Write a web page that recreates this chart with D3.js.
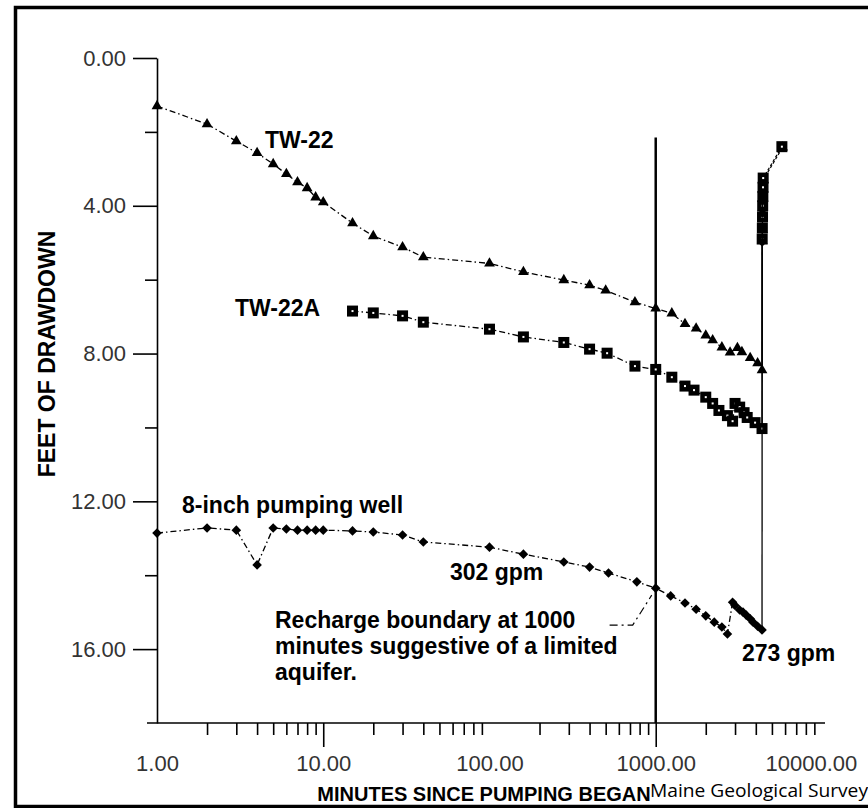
<!DOCTYPE html>
<html>
<head>
<meta charset="utf-8">
<script src="https://cdnjs.cloudflare.com/ajax/libs/d3/7.8.5/d3.min.js"></script>
<style>
body { margin: 0; background: #fff; }
svg { display: block; }
.axis text { font-family: "Liberation Sans", Arial, sans-serif; font-size: 22px; fill: #333; }
.axis path, .axis line { stroke: #000; stroke-width: 1.6; }
.note { font-family: "Liberation Sans", Arial, sans-serif; font-weight: bold; font-size: 23px; fill: #000; }
.title { font-family: "Liberation Sans", Arial, sans-serif; font-weight: bold; fill: #000; }
</style>
</head>
<body>
<div id="chart"></div>
<script>
// TW-22 observation well (triangles)
var tw22Minutes = [1, 2, 3, 4, 5, 6, 7, 8, 9, 10, 15, 20, 30, 40, 100, 160, 280, 400, 500, 750,
  1000, 1250, 1500, 1750, 2000, 2200, 2500, 2800, 3100, 3300, 3700, 4100, 4360];
var tw22Drawdown = [1.30, 1.79, 2.25, 2.57, 2.87, 3.14, 3.36, 3.52, 3.77, 3.90, 4.47, 4.82, 5.12, 5.39, 5.56, 5.79, 6.01, 6.15, 6.29, 6.61,
  6.78, 6.91, 7.20, 7.32, 7.51, 7.64, 7.83, 7.97, 7.85, 7.96, 8.12, 8.26, 8.45];
var tw22RecMinutes = [4370, 4380, 4390, 4400, 4410, 4420, 4430, 5800];
var tw22RecDrawdown = [4.95, 4.65, 4.35, 4.05, 3.80, 3.55, 3.30, 2.42];

// TW-22A observation well (squares)
var tw22aMinutes = [15, 20, 30, 40, 100, 160, 280, 400, 510, 750, 1000, 1250, 1500, 1700, 2000, 2200, 2400, 2700,
  2900, 3000, 3200, 3400, 3550, 3960, 4360];
var tw22aDrawdown = [6.85, 6.90, 6.98, 7.15, 7.34, 7.55, 7.70, 7.88, 7.99, 8.34, 8.43, 8.64, 8.88, 8.99, 9.18, 9.35, 9.54, 9.68,
  9.83, 9.35, 9.45, 9.60, 9.73, 9.87, 10.03];
var tw22aRecMinutes = [4370, 4380, 4390, 4400, 4410, 4420, 4430, 5740];
var tw22aRecDrawdown = [4.90, 4.60, 4.30, 4.00, 3.75, 3.50, 3.25, 2.40];

// 8-inch pumping well (diamonds)
var pwMinutes = [1, 2, 3, 4, 5, 6, 7, 8, 9, 10, 15, 20, 30, 40, 100, 160, 280, 400, 520, 770,
  1000, 1230, 1500, 1750, 2000, 2250, 2500, 2700, 2900, 3000, 3200, 3350, 3500, 3700, 3850, 4100, 4360];
var pwDrawdown = [12.86, 12.72, 12.78, 13.72, 12.72, 12.75, 12.78, 12.78, 12.78, 12.78, 12.80, 12.83, 12.91, 13.10, 13.24, 13.43, 13.64, 13.78, 13.94, 14.18,
  14.35, 14.56, 14.75, 14.92, 15.10, 15.27, 15.40, 15.59, 14.73, 14.82, 14.94, 15.00, 15.08, 15.18, 15.27, 15.38, 15.48];
var pwRecMinutes = [4370, 4380, 4390, 4400];
var pwRecDrawdown = [4.98, 4.60, 4.20, 3.80];

var xTickValues = [1, 10, 100, 1000, 10000];
var xTickLabels = ["1.00", "10.00", "100.00", "1000.00", "10000.00"];
var yTickValues = [0, 2, 4, 6, 8, 10, 12, 14, 16];
var yTickLabels = ["0.00", "", "4.00", "", "8.00", "", "12.00", "", "16.00"];

var boundaryMinutes = 1000;

var width = 868, height = 808;

var svg = d3.select("#chart").append("svg")
  .attr("width", width)
  .attr("height", height);

var x = d3.scaleLog().domain([1, 10430]).range([157, 825]);
var y = d3.scaleLinear().domain([0, 18]).range([58, 723]);

function zip(a, b) { return a.map(function(d, i) { return [d, b[i]]; }); }

// frame
svg.append("rect")
  .attr("x", 15.5).attr("y", 7.5)
  .attr("width", 900).attr("height", 799)
  .attr("fill", "none").attr("stroke", "#000").attr("stroke-width", 3.5);

// x axis
var xg = svg.append("g")
  .attr("class", "axis")
  .attr("transform", "translate(0," + y(18) + ")")
  .call(d3.axisBottom(x)
    .tickValues(x.ticks())
    .tickSize(12)
    .tickSizeOuter(0)
    .tickPadding(20)
    .tickFormat(function(d) {
      var i = xTickValues.indexOf(d);
      return i < 0 ? "" : xTickLabels[i];
    }));
xg.select(".domain").attr("d", "M" + (x.range()[0] - 10) + ",0H" + x.range()[1]);
xg.selectAll(".tick line")
  .attr("y2", function(d) { return (d === 10 || d === 1000) ? 24 : 12; })
  .style("display", function(d) { return (d === 1 || d === 100 || d === 10000) ? "none" : null; });
xg.selectAll(".tick text")
  .attr("dx", function(d) { return d === 10000 ? -11 : 0; });

// y axis
var yg = svg.append("g")
  .attr("class", "axis")
  .attr("transform", "translate(" + x(1) + ",0)")
  .call(d3.axisLeft(y)
    .tickValues(yTickValues)
    .tickSize(24)
    .tickSizeOuter(0)
    .tickPadding(7)
    .tickFormat(function(d, i) { return yTickLabels[i]; }));
yg.selectAll(".tick line")
  .attr("x2", function(d) { return d % 4 === 0 ? -24 : -12; });

// recharge boundary line
svg.append("line")
  .attr("x1", x(boundaryMinutes)).attr("x2", x(boundaryMinutes))
  .attr("y1", y(2.15)).attr("y2", y(18))
  .attr("stroke", "#000").attr("stroke-width", 2.5);

var line = d3.line()
  .x(function(d) { return x(d[0]); })
  .y(function(d) { return y(d[1]); });

var series = [
  {pump: zip(tw22Minutes, tw22Drawdown), rec: zip(tw22RecMinutes, tw22RecDrawdown), mark: "tri"},
  {pump: zip(tw22aMinutes, tw22aDrawdown), rec: zip(tw22aRecMinutes, tw22aRecDrawdown), mark: "sq"},
  {pump: zip(pwMinutes, pwDrawdown), rec: zip(pwRecMinutes, pwRecDrawdown), mark: "dia"}
];

series.forEach(function(s) {
  var g = svg.append("g");
  // pumping phase, dash-dot
  g.append("path")
    .attr("d", line(s.pump))
    .attr("fill", "none").attr("stroke", "#000").attr("stroke-width", 1.3)
    .attr("stroke-dasharray", "6,3,1.5,3");
  // jump to recovery, solid
  g.append("path")
    .attr("d", line([s.pump[s.pump.length - 1], s.rec[0]]))
    .attr("fill", "none").attr("stroke", "#000").attr("stroke-width", 1.3);
  g.append("path")
    .attr("d", line(s.rec))
    .attr("fill", "none").attr("stroke", "#000").attr("stroke-width", 1.2)
    .attr("stroke-dasharray", "3,2");

  var pts = s.pump.concat(s.rec);
  var m = g.selectAll(".m").data(pts).enter().append("g")
    .attr("transform", function(d) { return "translate(" + x(d[0]) + "," + y(d[1]) + ")"; });
  if (s.mark === "tri") {
    m.append("path").attr("d", d3.symbol().type(d3.symbolTriangle).size(50)).attr("fill", "#000");
  } else if (s.mark === "sq") {
    m.append("rect").attr("x", -5.5).attr("y", -5.5).attr("width", 11).attr("height", 11).attr("fill", "#000");
    m.append("rect").attr("x", -1).attr("y", -1).attr("width", 2).attr("height", 2).attr("fill", "#fff");
  } else {
    m.append("path").attr("d", d3.symbol().type(d3.symbolSquare).size(46))
      .attr("transform", "rotate(45)").attr("fill", "#000");
  }
});

// leader from note to boundary point
svg.append("path")
  .attr("d", line([[528, 15.35], [727, 15.35], [946, 14.54]]))
  .attr("fill", "none").attr("stroke", "#000").attr("stroke-width", 1.2)
  .attr("stroke-dasharray", "8,4,2,4");

// annotations
var notes = [
  {t: "TW-22", x: 265, y: 148},
  {t: "TW-22A", x: 235, y: 316},
  {t: "8-inch pumping well", x: 182, y: 513},
  {t: "302 gpm", x: 450, y: 580},
  {t: "Recharge boundary at 1000", x: 275, y: 628},
  {t: "minutes suggestive of a limited", x: 275, y: 654},
  {t: "aquifer.", x: 275, y: 680},
  {t: "273 gpm", x: 742, y: 661}
];
svg.selectAll(".note").data(notes).enter().append("text")
  .attr("class", "note")
  .attr("x", function(d) { return d.x; })
  .attr("y", function(d) { return d.y; })
  .text(function(d) { return d.t; });

// axis titles
svg.append("text")
  .attr("class", "title")
  .attr("x", 484).attr("y", 801)
  .attr("text-anchor", "middle")
  .style("font-size", "20px")
  .text("MINUTES SINCE PUMPING BEGAN");

svg.append("text")
  .attr("class", "title")
  .attr("transform", "translate(55,354) rotate(-90)")
  .attr("text-anchor", "middle")
  .style("font-size", "23px")
  .text("FEET OF DRAWDOWN");

svg.append("text")
  .attr("x", 650).attr("y", 797)
  .attr("font-family", "'Open Sans', 'Noto Sans', sans-serif")
  .attr("font-size", 18)
  .attr("textLength", 218)
  .attr("lengthAdjust", "spacingAndGlyphs")
  .text("Maine Geological Survey");
</script>
</body>
</html>
